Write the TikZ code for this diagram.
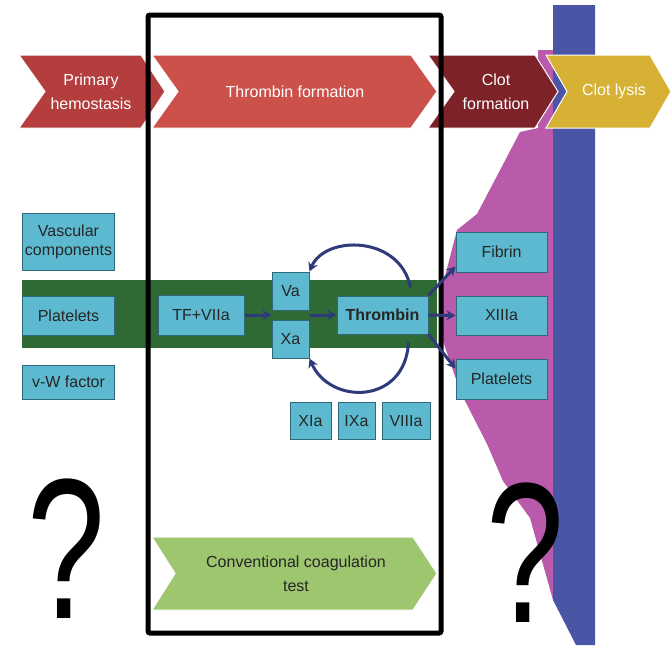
\documentclass[tikz,border=0pt]{standalone}
\usepackage{fontspec}
\setmainfont{Liberation Sans}
\usetikzlibrary{positioning,chains,arrows.meta}

\definecolor{primaryred}{HTML}{B43D3D}
\definecolor{phasered}{HTML}{CB514A}
\definecolor{clotred}{HTML}{7D2229}
\definecolor{lysisyellow}{HTML}{D6B133}
\definecolor{testgreen}{HTML}{9DC66F}
\definecolor{bandgreen}{HTML}{2F6A34}
\definecolor{factorfill}{HTML}{5CB9D0}
\definecolor{factorline}{HTML}{2E6878}
\definecolor{clotpink}{HTML}{B95BAA}
\definecolor{lysisblue}{HTML}{4B55A6}
\definecolor{arrowblue}{HTML}{2F3A7A}

\begin{document}
\begin{tikzpicture}[
  x=1pt,y=-1pt,
  factor node/.style={
    draw=factorline,
    fill=factorfill,
    line width=1pt,
    inner sep=0pt,
    align=center,
    minimum width=91pt,
    minimum height=39pt,
    text=black!85,
    font=\fontsize{16}{19}\selectfont,
  },
  phase/.style={draw=white,line width=1pt},
  phase text/.style={text=white,align=center,font=\fontsize{16}{24}\selectfont},
  cascade/.style={draw=arrowblue,line width=3pt,-{Stealth[length=9pt,width=10pt]}},
  question/.style={inner sep=0pt,font=\fontsize{200}{200}\selectfont},
  node distance=23pt,
  ]
  \useasboundingbox[fill=white] (0,0) rectangle (671,645);
  \begin{scope}
    \fill[clotpink] (538,50) -- (553,50) -- (553,600) -- (530,518) -- (503,481)
      -- (487,444) -- (460,391) -- (443,341) -- (443,284) -- (457,230)
      -- (477,214) -- (520,132) -- (538,128) -- cycle;
    \fill[lysisblue] (553,5) -- (595,5) -- (595,645) -- (576,645) -- (553,600) -- cycle;
    \fill[bandgreen] (22,280) rectangle (437,348);
  \end{scope}
  \begin{scope}
    \path[phase,fill=primaryred] (19,55) -- (141,55) -- (165,91.5) -- (141,128) -- (19,128) -- (45,91.5) -- cycle;
    \path[phase,fill=phasered] (152,55) -- (411,55) -- (437,91.5) -- (411,128) -- (152,128) -- (178,91.5) -- cycle;
    \path[phase,fill=clotred] (428,55) -- (535,55) -- (558,91.5) -- (535,128) -- (428,128) -- (454,91.5) -- cycle;
    \path[phase,fill=lysisyellow] (546,55) -- (650,55) -- (671,91.5) -- (650,128) -- (546,128) -- (567,91.5) -- cycle;
    \path[phase,fill=testgreen] (152,537) -- (413,537) -- (437,573.5) -- (413,610) -- (152,610) -- (175,573.5) -- cycle;
    \node[phase text] (primary-label)  at (91,91.5)  {Primary\\hemostasis};
    \node[phase text] (thrombin-label) at (295,91.5) {Thrombin formation};
    \node[phase text] (clot-label)     at (496,91.5) {Clot\\formation};
    \node[phase text] (lysis-label)    at (614,91.5) {Clot lysis};
    \node[phase text,text=black!85] (test-label) at (296,574) {Conventional coagulation\\test};
  \end{scope}
  \draw[line width=5pt,rounded corners=2pt] (148,15) rectangle (441,633);
  \node[factor node,minimum width=92pt,minimum height=57pt] (vascular) at (68.5,241.5) {Vascular\\components};
  \node[factor node,minimum width=92pt,below=25pt of vascular] (platelets-left) {Platelets};
  \node[factor node,minimum width=92pt,minimum height=34pt,below=29pt of platelets-left] (vwf) {v-W factor};
  \node[factor node,minimum width=86pt,minimum height=40pt] (tf-viia) at (201,315) {TF+VIIa};
  \node[factor node,minimum width=37pt,minimum height=38pt] (va) at (290.5,291) {Va};
  \node[factor node,minimum width=37pt,minimum height=38pt,below=9pt of va] (xa) {Xa};
  \node[factor node,minimum height=38pt,font=\fontsize{16}{19}\selectfont\bfseries] (thrombin) at (382.5,315) {Thrombin};
  \begin{scope}[start chain=going below]
    \node[factor node,on chain,minimum height=40pt] (fibrin) at (501.5,252) {Fibrin};
    \node[factor node,on chain] (xiiia) {XIIIa};
    \node[factor node,on chain,minimum height=40pt] (platelets-right) {Platelets};
  \end{scope}
  \begin{scope}[start chain=going right,node distance=6pt,
    every node/.style={factor node,on chain,minimum height=37pt}]
    \node[minimum width=41pt] (xia) at (310.5,421) {XIa};
    \node[minimum width=37pt] (ixa) {IXa};
    \node[minimum width=48pt] (viiia) {VIIIa};
  \end{scope}
  \begin{scope}
    \draw[cascade] (tf-viia.east) -- (tf-viia.east -| va.west);
    \draw[cascade] (thrombin.west -| xa.east) -- (thrombin.west);
    \draw[cascade] ([xshift=28pt,yshift=8pt]thrombin.north) .. controls (400,235) and (325,235) .. (va.north east);
    \draw[cascade] ([xshift=26pt,yshift=-8pt]thrombin.south) .. controls (405,405) and (330,405) .. (xa.south east);
    \draw[cascade] (thrombin.north east) -- ([yshift=6pt]fibrin.south west);
    \draw[cascade] (thrombin.east) -- (xiiia.west);
    \draw[cascade] (thrombin.south east) -- ([yshift=-10pt]platelets-right.north west);
  \end{scope}
  \node[question] (left-query)  at (66,549)  {\scalebox{0.7}[1]{?}};
  \node[question] (right-query) at (525,553) {\scalebox{0.7}[1]{?}};
\end{tikzpicture}
\end{document}
